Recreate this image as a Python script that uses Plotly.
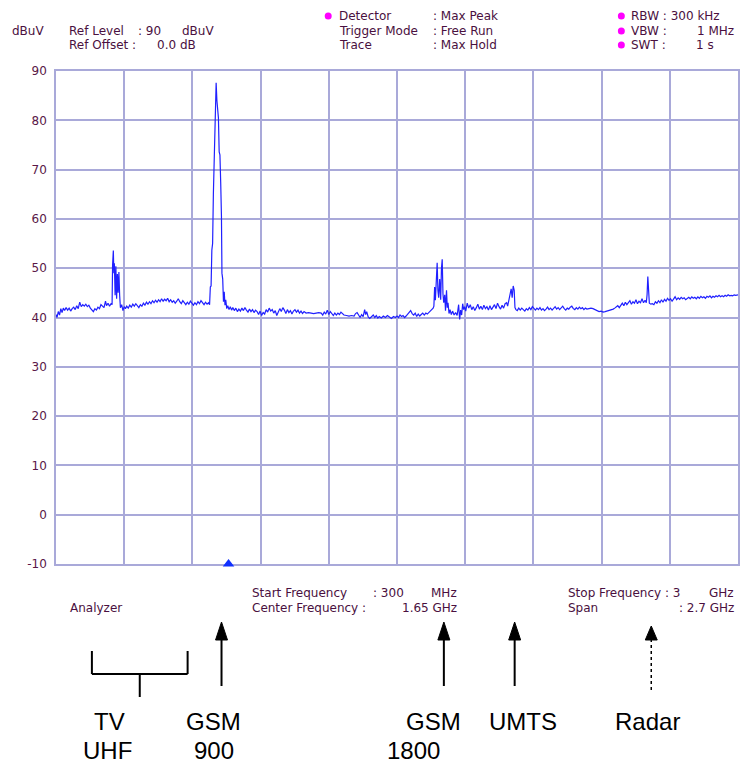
import plotly.graph_objects as go

# ---------------- data (frequency in MHz, level in dBuV) ----------------
freq_a = [300, 304, 309, 314, 319, 324, 329, 334, 340, 346, 352, 358, 364, 370, 376, 382, 388, 394, 400, 406,
          412, 418, 424, 430, 436, 442, 448, 454, 460, 466, 472, 478, 484, 490, 496, 500, 506, 512, 518, 522,
          524, 527, 529, 531, 534, 537, 540, 543, 546, 549, 552, 555, 560, 565, 570]
level_a = [40.6, 40.0, 41.2, 40.5, 41.8, 41.0, 41.9, 41.4, 42.0, 41.5, 41.9, 41.3, 41.8, 42.1, 41.6, 42.4, 41.8, 43.1, 42.2, 42.6,
           42.3, 42.7, 42.2, 42.5, 41.9, 41.6, 41.2, 41.8, 41.5, 42.1, 41.8, 42.6, 42.3, 42.0, 43.3, 42.4, 42.9, 42.3, 42.8, 42.6,
           50.6, 53.6, 49.0, 51.0, 44.5, 50.4, 43.8, 48.8, 45.0, 49.2, 44.5, 42.0, 42.6, 41.4, 42.2]

freq_b = [575, 580, 586, 592, 598, 604, 610, 616, 622, 628, 634, 640, 646, 652, 658, 664, 670, 676, 682, 688,
          694, 700, 706, 712, 718, 724, 730, 736, 742, 748, 754, 760, 766, 772, 778, 784, 790, 796, 802, 808,
          814, 820, 826, 832, 838, 844, 850, 856, 862, 868, 874, 880, 886, 892, 898, 904, 908,
          911, 914, 917, 920, 923, 926, 929, 934, 937, 940, 943, 946, 949, 952, 955, 957, 960, 963, 966, 969, 972, 976]
level_b = [41.8, 42.3, 41.9, 42.5, 42.1, 42.7, 42.3, 42.8, 42.4, 42.0, 42.6, 42.3, 42.9, 42.5, 43.1, 42.7, 43.2, 42.8, 43.4, 43.0,
           43.5, 43.1, 43.6, 43.2, 43.8, 43.3, 43.7, 43.4, 43.9, 43.2, 43.6, 43.1, 43.4, 42.9, 43.3, 43.8, 43.2, 42.8, 43.4, 42.9,
           42.6, 43.1, 42.7, 43.3, 42.8, 42.5, 43.0, 42.6, 43.2, 42.8, 43.4, 42.9, 42.6, 43.1, 42.7, 43.0, 42.6,
           46.2, 46.4, 53.7, 55.0, 65.0, 72.0, 78.5, 87.6, 84.0, 82.8, 80.5, 73.6, 73.0, 67.5, 60.6, 49.0, 47.8, 43.2, 45.2, 42.5, 43.6, 41.8]

freq_c = [980, 985, 990, 995, 1000, 1006, 1012, 1018, 1024, 1030, 1036, 1042, 1048, 1054, 1060, 1066, 1072, 1078, 1084, 1090,
          1096, 1102, 1108, 1114, 1120, 1126, 1132, 1138, 1144, 1150, 1156, 1162, 1168, 1174, 1180, 1186, 1192, 1198, 1204, 1210,
          1216, 1222, 1228, 1234, 1240, 1246, 1252, 1258, 1264, 1270, 1276, 1282, 1290, 1300, 1310, 1320, 1330, 1340, 1350, 1356,
          1362, 1368, 1374, 1380, 1386, 1392, 1398, 1404, 1410, 1416, 1422, 1428, 1434, 1440, 1450, 1460, 1470, 1480, 1486, 1492,
          1498, 1504, 1510, 1516, 1522, 1526, 1530, 1536, 1542, 1550, 1556, 1562, 1568, 1574, 1580, 1588, 1596, 1604, 1612, 1620,
          1628, 1636, 1644, 1650, 1656, 1662, 1668, 1674, 1680, 1686, 1692, 1698, 1704, 1710, 1716, 1722, 1728, 1734, 1740, 1746,
          1752, 1758, 1764, 1770, 1776, 1782, 1788, 1793]
level_c = [42.4, 41.6, 42.2, 41.5, 42.0, 41.4, 41.9, 41.2, 41.7, 41.3, 41.9, 41.4, 42.0, 41.5, 41.1, 41.7, 41.2, 41.6, 41.0, 41.5,
           41.2, 40.6, 41.3, 40.4, 41.0, 40.7, 41.6, 41.1, 41.9, 41.3, 41.6, 40.9, 41.4, 40.4, 41.1, 41.8, 41.2, 42.0, 41.5, 40.8,
           41.6, 41.0, 41.4, 40.7, 41.3, 41.6, 41.1, 41.5, 40.9, 41.3, 40.8, 41.2, 40.9, 41.0, 40.9, 40.8, 40.9, 41.0, 40.9, 40.5,
           41.1, 40.7, 41.5, 40.6, 41.2, 40.8, 40.4, 40.9, 40.5, 40.9, 40.6, 41.1, 40.7, 40.5, 40.4, 40.3, 40.4, 40.3, 40.8, 41.0,
           40.5, 40.0, 40.6, 40.2, 41.6, 40.6, 41.2, 40.1, 39.8, 40.2, 40.5, 40.0, 40.4, 39.9, 40.2, 39.9, 40.3, 40.0, 40.4, 40.1,
           39.8, 40.2, 40.0, 40.3, 40.0, 40.5, 40.2, 40.4, 40.0, 40.3, 40.6, 41.0, 41.4, 40.8, 40.5, 40.9, 40.2, 40.7, 40.3, 40.6,
           40.9, 40.5, 40.9, 40.7, 41.0, 41.3, 41.6, 41.9]

freq_d = [1796, 1799, 1802, 1806, 1809, 1812, 1815, 1819, 1823, 1826, 1829, 1832, 1835, 1839, 1842, 1846, 1849, 1852, 1856, 1860,
          1865, 1870, 1876, 1882, 1888, 1894, 1898, 1902, 1906, 1910, 1914, 1918, 1922, 1928, 1934, 1940, 1946, 1952, 1958, 1964,
          1970, 1976, 1982, 1988, 1994, 2000, 2006, 2012, 2018, 2024, 2030, 2036, 2042, 2048, 2054, 2060, 2066, 2072, 2078, 2084,
          2088, 2092, 2098, 2102, 2106, 2110, 2114, 2117, 2121]
level_d = [42.3, 46.2, 43.5, 49.0, 51.1, 45.5, 44.0, 47.8, 43.6, 50.0, 51.8, 44.8, 43.0, 44.6, 41.4, 45.5, 42.0, 43.0, 40.8, 41.6,
           40.6, 41.3, 40.5, 41.0, 40.4, 42.6, 39.6, 41.5, 40.5, 42.8, 41.6, 42.2, 41.3, 42.9, 41.9, 42.6, 41.6, 42.2, 41.4, 42.0,
           42.7, 41.7, 42.3, 41.6, 42.5, 41.8, 42.2, 41.5, 42.4, 41.6, 42.0, 42.6, 41.8, 42.9, 42.2, 41.7, 42.5, 41.9, 42.8, 43.0,
           42.3, 43.2, 44.5, 45.8, 44.0, 46.4, 45.5, 42.0, 41.6]

freq_e = [2126, 2132, 2138, 2144, 2150, 2156, 2162, 2168, 2174, 2180, 2186, 2192, 2198, 2204, 2210, 2216, 2222, 2228, 2234, 2240,
          2246, 2252, 2258, 2264, 2270, 2276, 2282, 2288, 2294, 2300, 2306, 2312, 2318, 2324, 2330, 2336, 2342, 2348, 2354, 2360,
          2366, 2372, 2378, 2384, 2390, 2396, 2402, 2410, 2418, 2426, 2434, 2442, 2450, 2458, 2466, 2474, 2482, 2490, 2498, 2506,
          2512, 2518, 2524, 2530, 2536, 2542, 2548, 2554, 2560, 2566, 2572, 2578, 2584, 2590, 2596, 2602, 2608, 2614, 2620, 2626,
          2632, 2637, 2640, 2643, 2646, 2649]
level_e = [41.4, 41.9, 41.5, 41.9, 41.6, 41.3, 41.8, 41.5, 42.0, 41.6, 42.2, 41.8, 41.5, 41.9, 41.6, 42.0, 41.5, 41.8, 41.4, 41.7,
           42.1, 41.6, 41.9, 41.5, 41.8, 42.2, 41.7, 42.0, 41.6, 41.9, 42.3, 41.8, 41.5, 41.9, 41.7, 42.1, 42.3, 41.8, 41.6, 42.0,
           41.7, 42.1, 41.8, 42.0, 41.6, 41.9, 41.7, 41.8, 41.9, 41.8, 41.6, 41.5, 41.2, 41.3, 41.1, 41.2, 41.3, 41.4, 41.5, 41.7,
           41.9, 42.2, 42.4, 42.0, 42.5, 42.9, 42.4, 43.1, 42.6, 42.9, 43.4, 42.7, 43.2, 42.9, 43.6, 42.8, 43.3, 43.0, 43.8, 43.0,
           43.5, 43.0, 44.6, 48.3, 45.7, 42.9]

freq_f = [2655, 2661, 2667, 2673, 2679, 2685, 2691, 2697, 2703, 2709, 2715, 2721, 2727, 2733, 2739, 2745, 2751, 2757, 2763, 2769,
          2775, 2781, 2787, 2793, 2799, 2805, 2811, 2817, 2823, 2829, 2835, 2841, 2847, 2853, 2859, 2865, 2871, 2877, 2883, 2889,
          2895, 2901, 2907, 2913, 2919, 2925, 2931, 2937, 2943, 2949, 2955, 2961, 2967, 2973, 2979, 2985, 2991, 3000]
level_f = [42.7, 42.8, 42.6, 43.2, 42.9, 43.4, 43.0, 43.6, 43.1, 43.7, 43.3, 43.9, 43.5, 43.8, 43.3, 43.9, 44.2, 43.6, 44.0, 43.7,
           44.1, 43.8, 44.0, 43.6, 43.9, 44.1, 43.8, 44.2, 43.9, 44.1, 43.8, 44.2, 43.9, 44.3, 44.0, 44.2, 43.9, 44.3, 44.1, 44.4,
           44.0, 44.3, 44.1, 44.4, 44.2, 44.5, 44.2, 44.4, 44.2, 44.5, 44.3, 44.6, 44.4, 44.5, 44.4, 44.6, 44.5, 44.6]

freq_mhz = freq_a + freq_b + freq_c + freq_d + freq_e + freq_f
level_dbuv = level_a + level_b + level_c + level_d + level_e + level_f

marker_freq = [983]
marker_level = [-10]

y_ticks = [-10, 0, 10, 20, 30, 40, 50, 60, 70, 80, 90]

# ---------------- layout helpers ----------------
W, H = 740, 767
L, T, R, B = 56, 71, 0, 203
PW, PH = W - L - R, H - T - B


def px(x):
    return (x - L) / PW


def py(y):
    return (H - B - y) / PH


TXT = "#4a1040"
SMALL = dict(family="DejaVu Sans", size=12, color=TXT)
BIG = dict(family="Liberation Sans, Arial", size=24, color="black")

fig = go.Figure()
fig.add_trace(go.Scatter(x=freq_mhz, y=level_dbuv, mode="lines",
                         line=dict(color="#2020ff", width=1.2), hoverinfo="skip"))
fig.add_trace(go.Scatter(x=marker_freq, y=marker_level, mode="markers", cliponaxis=False,
                         marker=dict(symbol="triangle-up", size=10, color="#1030ff",
                                     line=dict(width=0)), hoverinfo="skip"))

GRID = "#a9a9d9"
fig.update_layout(
    width=W, height=H, autosize=False,
    margin=dict(l=L, r=R, t=T, b=B, pad=0),
    paper_bgcolor="white", plot_bgcolor="white",
    showlegend=False,
    xaxis=dict(range=[300, 3000], tick0=300, dtick=270, showticklabels=False,
               showgrid=True, gridcolor=GRID, gridwidth=1.5, zeroline=False,
               showline=True, linecolor=GRID, linewidth=1.5, mirror=True, ticks="",
               layer="below traces"),
    yaxis=dict(range=[-10, 90], tickvals=y_ticks, ticktext=[str(v) for v in y_ticks],
               showgrid=True, gridcolor=GRID, gridwidth=1.5, zeroline=False,
               showline=True, linecolor=GRID, linewidth=1.5, mirror=True, ticks="",
               tickfont=dict(family="DejaVu Sans", size=12, color="#5a1848"),
               ticklabelstandoff=5, layer="below traces"),
)

anns = []


def text(x, y, s, font=SMALL, anchor="left"):
    anns.append(dict(x=px(x), y=py(y), xref="paper", yref="paper", text=s, showarrow=False,
                     xanchor=anchor, yanchor="middle", font=font))


# header
text(10, 31, "dBuV")
text(67, 31, "Ref Level")
text(136, 31, ": 90")
text(180, 31, "dBuV")
text(67, 45, "Ref Offset :")
text(155, 45, "0.0 dB")
text(338, 16, "Detector")
text(432, 16, ": Max Peak")
text(338, 31, "Trigger Mode")
text(432, 31, ": Free Run")
text(338, 45, "Trace")
text(432, 45, ": Max Hold")
text(631, 16, "RBW : 300 kHz")
text(631, 31, "VBW :")
text(738, 31, "1 MHz", anchor="right")
text(631, 45, "SWT :")
text(718, 45, "1 s", anchor="right")

# footer info
text(68, 608, "Analyzer")
text(251, 593, "Start Frequency")
text(372, 593, ": 300")
text(430, 593, "MHz")
text(251, 608, "Center Frequency :")
text(460, 608, "1.65 GHz", anchor="right")
text(567, 593, "Stop Frequency : 3")
text(738, 593, "GHz", anchor="right")
text(567, 608, "Span")
text(738, 608, ": 2.7 GHz", anchor="right")

# band labels
text(110, 721, "TV", BIG, "center")
text(108, 750, "UHF", BIG, "center")
text(214, 721, "GSM", BIG, "center")
text(214, 750, "900", BIG, "center")
text(435, 721, "GSM", BIG, "center")
text(415, 750, "1800", BIG, "center")
text(524, 721, "UMTS", BIG, "center")
text(649, 721, "Radar", BIG, "center")

shapes = []


def line(x0, y0, x1, y1, dash="solid", width=2, color="black"):
    shapes.append(dict(type="line", xref="paper", yref="paper", x0=px(x0), y0=py(y0),
                       x1=px(x1), y1=py(y1), line=dict(color=color, width=width, dash=dash)))


def head(x, tip, base, half=6):
    path = "M {} {} L {} {} L {} {} Z".format(px(x), py(tip), px(x - half), py(base), px(x + half), py(base))
    shapes.append(dict(type="path", xref="paper", yref="paper", path=path,
                       fillcolor="black", line=dict(color="black", width=1)))


def dot(x, y, r=3.5):
    shapes.append(dict(type="circle", xref="paper", yref="paper",
                       x0=px(x - r), x1=px(x + r), y0=py(y + r), y1=py(y - r),
                       fillcolor="#ff00ff", line=dict(color="#ff00ff", width=0)))


dot(329, 16)
dot(623, 16)
dot(623, 31)
dot(623, 45)

for ax in (222, 445, 516):
    line(ax, 686, ax, 636)
    head(ax, 622, 640)
line(653, 690, 653, 638, dash="3px,3px", width=1.5)
head(653, 626, 640)

# TV bracket
line(92, 651, 92, 674)
line(92, 674, 188, 674)
line(188, 651, 188, 674)
line(140, 674, 140, 697)

fig.update_layout(annotations=anns, shapes=shapes)
fig.write_html("out.html")
